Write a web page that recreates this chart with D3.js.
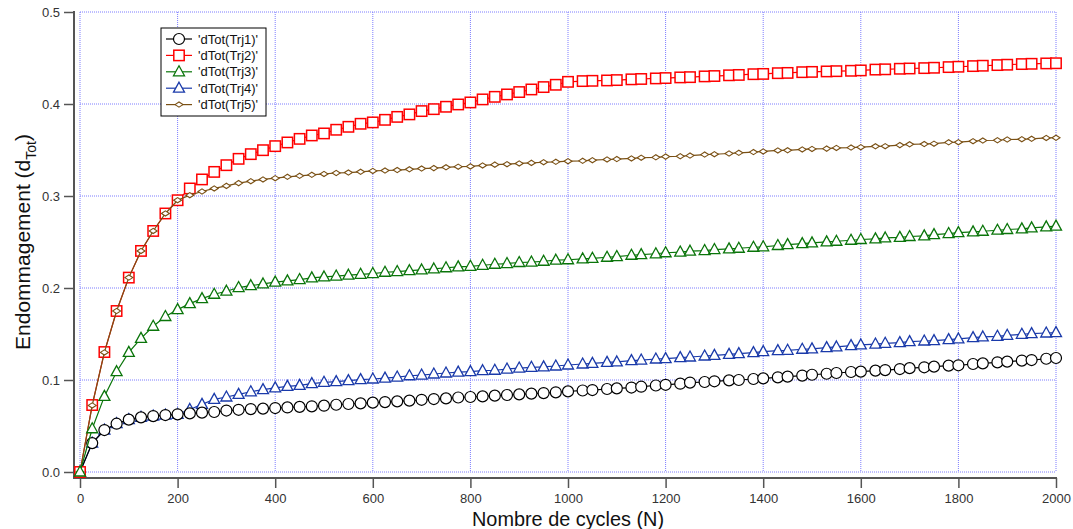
<!DOCTYPE html>
<html>
<head>
<meta charset="utf-8">
<script src="https://cdn.jsdelivr.net/npm/d3@7"></script>
<style>
  html, body { margin: 0; padding: 0; background: #ffffff; }
  svg { display: block; font-family: "Liberation Sans", Arial, sans-serif; }
</style>
</head>
<body>
<svg id="chart" width="1073" height="529"></svg>
<script>
// ---------- data ----------
const cycles = [0,25,50,75,100,125,150,175,200,225,250,275,300,325,350,375,400,425,450,475,500,525,550,575,600,625,650,675,700,725,750,775,800,825,850,875,900,925,950,975,1000,
  1030,1050,1080,1100,1130,1150,1180,1200,1230,1250,1280,1300,1330,1350,1380,1400,1430,1450,1480,1500,1530,1550,1580,1600,1630,1650,1680,1700,1730,1750,1780,1800,1830,1850,1880,1900,1930,1950,1980,2000];

const trj1 = [0,0.0314,0.0456,0.0525,0.0569,0.0594,0.0608,0.0619,0.0627,0.0637,0.0645,0.0652,0.0668,0.0676,0.0684,0.0689,0.0695,0.0702,0.0708,0.0714,0.0721,0.0731,0.0739,0.0746,0.0754,0.0760,0.0768,0.0776,0.0785,0.0793,0.0800,0.0810,0.0815,0.0822,0.0830,0.0837,0.0844,0.0852,0.0858,0.0866,0.0876,
  0.0886,0.0891,0.0902,0.0909,0.0918,0.0927,0.0940,0.0948,0.0960,0.0972,0.0978,0.0986,0.0996,0.1000,0.1011,0.1018,0.1029,0.1037,0.1048,0.1057,0.1068,0.1076,0.1087,0.1091,0.1102,0.1108,0.1119,0.1129,0.1138,0.1145,0.1156,0.1160,0.1174,0.1181,0.1192,0.1200,0.1211,0.1217,0.1231,0.1239];

const trj2 = [0,0.0728,0.1304,0.1750,0.2113,0.2403,0.2620,0.2810,0.2954,0.3082,0.3180,0.3262,0.3335,0.3404,0.3455,0.3498,0.3542,0.3582,0.3621,0.3658,0.3680,0.3720,0.3752,0.3785,0.3800,0.3828,0.3860,0.3887,0.3923,0.3944,0.3970,0.3995,0.4017,0.4050,0.4078,0.4104,0.4130,0.4158,0.4184,0.4209,0.4241,
  0.4249,0.4252,0.4256,0.4260,0.4268,0.4272,0.4278,0.4282,0.4289,0.4292,0.4300,0.4304,0.4312,0.4316,0.4324,0.4327,0.4335,0.4338,0.4346,0.4349,0.4354,0.4357,0.4361,0.4365,0.4374,0.4377,0.4383,0.4386,0.4390,0.4394,0.4401,0.4405,0.4412,0.4416,0.4423,0.4427,0.4434,0.4437,0.4441,0.4443];

const trj3 = [0,0.0470,0.0822,0.1090,0.1300,0.1453,0.1584,0.1690,0.1765,0.1830,0.1885,0.1932,0.1965,0.2005,0.2025,0.2044,0.2064,0.2078,0.2092,0.2110,0.2120,0.2130,0.2139,0.2149,0.2157,0.2171,0.2179,0.2188,0.2196,0.2207,0.2220,0.2229,0.2236,0.2247,0.2258,0.2266,0.2277,0.2282,0.2291,0.2302,0.2307,
  0.2316,0.2323,0.2334,0.2342,0.2356,0.2363,0.2372,0.2383,0.2391,0.2400,0.2407,0.2418,0.2425,0.2432,0.2443,0.2448,0.2462,0.2472,0.2483,0.2490,0.2501,0.2508,0.2519,0.2527,0.2534,0.2544,0.2550,0.2560,0.2567,0.2580,0.2592,0.2602,0.2610,0.2617,0.2628,0.2636,0.2643,0.2653,0.2664,0.2672];

const trj4 = [0,0.0314,0.0456,0.0525,0.0569,0.0594,0.0608,0.0619,0.0627,0.0680,0.0735,0.0790,0.0815,0.0844,0.0872,0.0895,0.0915,0.0931,0.0942,0.0960,0.0975,0.0982,0.0993,0.1004,0.1011,0.1021,0.1032,0.1046,0.1054,0.1065,0.1076,0.1086,0.1091,0.1101,0.1106,0.1119,0.1130,0.1138,0.1142,0.1152,0.1163,
  0.1174,0.1181,0.1192,0.1196,0.1211,0.1217,0.1228,0.1232,0.1243,0.1250,0.1261,0.1268,0.1279,0.1287,0.1298,0.1309,0.1319,0.1323,0.1334,0.1338,0.1352,0.1359,0.1374,0.1381,0.1391,0.1399,0.1406,0.1417,0.1424,0.1428,0.1439,0.1446,0.1461,0.1468,0.1475,0.1486,0.1497,0.1504,0.1511,0.1515];

const trj5 = [0,0.0724,0.1300,0.1750,0.2113,0.2403,0.2620,0.2810,0.2954,0.3009,0.3049,0.3082,0.3110,0.3140,0.3161,0.3180,0.3194,0.3208,0.3219,0.3230,0.3240,0.3250,0.3255,0.3263,0.3273,0.3277,0.3282,0.3290,0.3298,0.3303,0.3312,0.3319,0.3322,0.3332,0.3341,0.3346,0.3354,0.3360,0.3367,0.3371,0.3378,
  0.3382,0.3389,0.3397,0.3401,0.3408,0.3416,0.3420,0.3428,0.3432,0.3439,0.3450,0.3454,0.3462,0.3469,0.3477,0.3484,0.3495,0.3497,0.3506,0.3512,0.3515,0.3523,0.3526,0.3531,0.3540,0.3542,0.3553,0.3562,0.3565,0.3569,0.3583,0.3585,0.3596,0.3603,0.3606,0.3614,0.3617,0.3622,0.3631,0.3633];

const seriesNames = ["'dTot(Trj1)'", "'dTot(Trj2)'", "'dTot(Trj3)'", "'dTot(Trj4)'", "'dTot(Trj5)'"];
const xTicks = [0,200,400,600,800,1000,1200,1400,1600,1800,2000];
const yTicks = [0.0,0.1,0.2,0.3,0.4,0.5];

// ---------- styling ----------
const styles = [
  {color: "#000000", marker: "circle"},
  {color: "#ff0000", marker: "square"},
  {color: "#0a750a", marker: "triangle"},
  {color: "#1a3aaa", marker: "triangle"},
  {color: "#7a5014", marker: "diamond"}
];
const seriesData = [trj1, trj2, trj3, trj4, trj5];
const series = seriesData.map((vals, i) => ({
  name: seriesNames[i], color: styles[i].color, marker: styles[i].marker,
  points: cycles.map((c, j) => ({x: c, y: vals[j]}))
}));
const drawOrder = [3, 0, 1, 4, 2];

const svg = d3.select("#chart");
const x = d3.scaleLinear().domain([0, 2000]).range([80, 1056]);
const y = d3.scaleLinear().domain([0, 0.5]).range([472, 12]);
const axisX = 74, axisY = 478;
const axisColor = "#555555";

// grid
const grid = svg.append("g");
grid.selectAll("line.vx").data(xTicks).join("line")
  .attr("x1", d => x(d)).attr("x2", d => x(d))
  .attr("y1", y(0.5)).attr("y2", y(0))
  .attr("stroke", "#7d7dff").attr("stroke-width", 1).attr("stroke-dasharray", "1,1");
grid.selectAll("line.hy").data(yTicks).join("line")
  .attr("x1", x(0)).attr("x2", x(2000))
  .attr("y1", d => y(d)).attr("y2", d => y(d))
  .attr("stroke", "#7d7dff").attr("stroke-width", 1).attr("stroke-dasharray", "1,1");

// axes
const gx = svg.append("g").attr("transform", `translate(0,${axisY})`)
  .call(d3.axisBottom(x).tickValues(xTicks).tickFormat(d3.format("d")).tickSize(10).tickSizeOuter(0).tickPadding(6));
const gy = svg.append("g").attr("transform", `translate(${axisX},0)`)
  .call(d3.axisLeft(y).tickValues(yTicks).tickFormat(d3.format(".1f")).tickSize(10).tickSizeOuter(0).tickPadding(4));
[gx, gy].forEach(g => {
  g.select(".domain").remove();
  g.selectAll(".tick line").attr("stroke", axisColor).attr("stroke-width", 1.5);
  g.selectAll(".tick text").attr("fill", "#333").style("font-size", "13px")
    .style("font-family", "'Liberation Sans', Arial, sans-serif");
});
svg.append("line").attr("x1", axisX).attr("x2", axisX).attr("y1", y(0.5) - 1).attr("y2", axisY + 1)
  .attr("stroke", axisColor).attr("stroke-width", 2);
svg.append("line").attr("x1", axisX - 1).attr("x2", x(2000) + 1).attr("y1", axisY).attr("y2", axisY)
  .attr("stroke", axisColor).attr("stroke-width", 2);

// axis titles
svg.append("text").attr("x", (x(0) + x(2000)) / 2).attr("y", 526)
  .attr("text-anchor", "middle").style("font-size", "20px").attr("fill", "#111")
  .attr("textLength", 192).attr("lengthAdjust", "spacingAndGlyphs")
  .text("Nombre de cycles (N)");
const yt = svg.append("text").attr("transform", `translate(30,${(y(0) + y(0.5)) / 2}) rotate(-90)`)
  .attr("text-anchor", "middle").style("font-size", "21px").attr("fill", "#111");
yt.append("tspan").text("Endommagement (d");
yt.append("tspan").attr("dy", 6).style("font-size", "14px").text("Tot");
yt.append("tspan").attr("dy", -6).text(")");

// marker drawing
function drawMarker(sel, type, color) {
  if (type === "circle") {
    sel.append("circle").attr("r", 5.5).attr("fill", "#fff").attr("stroke", color).attr("stroke-width", 1.2);
  } else if (type === "square") {
    sel.append("rect").attr("x", -5.2).attr("y", -5.2).attr("width", 10.4).attr("height", 10.4)
      .attr("fill", "#fff").attr("stroke", color).attr("stroke-width", 1.5);
  } else if (type === "triangle") {
    sel.append("path").attr("d", "M0,-6 L5.5,4 L-5.5,4 Z")
      .attr("fill", "#fff").attr("stroke", color).attr("stroke-width", 1.3);
  } else {
    sel.append("path").attr("d", "M-4,0 L0,-2.6 L4,0 L0,2.6 Z")
      .attr("fill", "#fff").attr("stroke", color).attr("stroke-width", 1.1);
  }
}

const line = d3.line().x(d => x(d.x)).y(d => y(d.y));
const plot = svg.append("g");
drawOrder.forEach(i => {
  const s = series[i];
  const g = plot.append("g");
  g.append("path").datum(s.points).attr("d", line).attr("fill", "none")
    .attr("stroke", s.color).attr("stroke-width", 1.2);
  g.selectAll("g.m").data(s.points).join("g")
    .attr("transform", d => `translate(${x(d.x)},${y(d.y)})`)
    .each(function () { drawMarker(d3.select(this), s.marker, s.color); });
});

// legend
const leg = svg.append("g").attr("transform", "translate(161,28)");
leg.append("rect").attr("x", 0).attr("y", 0).attr("width", 105).attr("height", 88)
  .attr("fill", "#fff").attr("stroke", "#000").attr("stroke-width", 1);
series.forEach((s, i) => {
  const row = leg.append("g").attr("transform", `translate(0,${11 + i * 16.4})`);
  row.append("line").attr("x1", 5).attr("x2", 31).attr("y1", 0).attr("y2", 0)
    .attr("stroke", s.color).attr("stroke-width", 1.2);
  drawMarker(row.append("g").attr("transform", "translate(18,0)"), s.marker, s.color);
  row.append("text").attr("x", 37).attr("y", 4.6).style("font-size", "13px").attr("fill", "#111").text(s.name);
});
</script>
</body>
</html>
